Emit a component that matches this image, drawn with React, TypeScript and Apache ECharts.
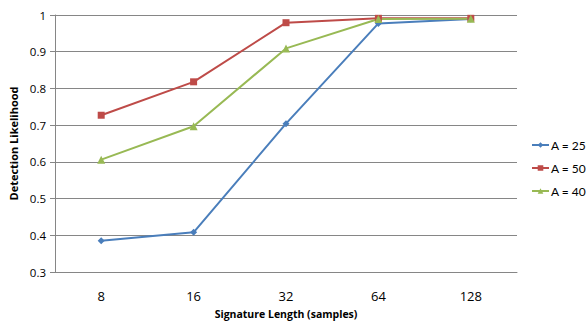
import React, { useEffect, useRef } from "react";
import * as echarts from "echarts";

const categories = ["8", "16", "32", "64", "128"];
const seriesA25 = [0.385, 0.408, 0.704, 0.977, 0.989];
const seriesA50 = [0.727, 0.818, 0.979, 0.991, 0.991];
const seriesA40 = [0.606, 0.697, 0.909, 0.989, 0.99];
const seriesNames = ["A = 25", "A = 50", "A = 40"];
const colors = ["#4A7EBB", "#BE4B48", "#98B954"];

const FONT = "'Open Sans', 'Liberation Sans', sans-serif";

export default function App() {
  const ref = useRef<HTMLDivElement>(null);
  useEffect(() => {
    if (!ref.current) return;
    const chart = echarts.init(ref.current, null, { renderer: "svg" });
    const data = [seriesA25, seriesA50, seriesA40];
    const symbols = ["diamond", "rect", "triangle"];
    const sizes = [7, 7, 8];
    chart.setOption({
      animation: false,
      backgroundColor: "#ffffff",
      grid: { left: 55, right: 70, top: 15, bottom: 50, outerBoundsMode: "none", containLabel: false },
      legend: {
        orient: "vertical",
        left: 526,
        top: 133,
        itemWidth: 17,
        itemHeight: 7,
        itemGap: 9,
        data: seriesNames,
        textStyle: { fontFamily: "Lato, sans-serif", fontSize: 12, color: "#000", padding: [0, 0, 0, -3], lineHeight: 14 },
      },
      xAxis: {
        type: "category",
        data: categories,
        boundaryGap: true,
        name: "Signature Length (samples)",
        nameLocation: "middle",
        nameGap: 36,
        nameTextStyle: { fontFamily: FONT, fontSize: 10.5, fontWeight: "bold", color: "#000" },
        axisLine: { lineStyle: { color: "#868686", width: 1 } },
        axisTick: { show: false },
        axisLabel: { fontFamily: FONT, fontSize: 13, color: "#000", margin: 17 },
      },
      yAxis: {
        type: "value",
        min: 0.3,
        max: 1,
        interval: 0.1,
        name: "Detection Likelihood",
        nameLocation: "middle",
        nameGap: 35,
        nameRotate: 90,
        nameTextStyle: { fontFamily: FONT, fontSize: 11, fontWeight: "bold", color: "#000" },
        axisLine: { show: true, lineStyle: { color: "#868686", width: 1 } },
        axisTick: { show: true, length: 5, lineStyle: { color: "#868686" } },
        axisLabel: {
          fontFamily: FONT,
          fontSize: 11.5,
          color: "#000",
          margin: 9,
          formatter: (v: number) => String(Math.round(v * 10) / 10),
        },
        splitLine: { lineStyle: { color: "#868686", width: 1 } },
      },
      series: seriesNames.map((name, i) => ({
        name,
        type: "line",
        data: data[i],
        symbol: symbols[i],
        symbolSize: sizes[i],
        showSymbol: true,
        itemStyle: { color: colors[i] },
        lineStyle: { color: colors[i], width: 2 },
      })),
    });
    return () => chart.dispose();
  }, []);
  return (
    <div
      ref={ref}
      style={{ position: "fixed", left: 0, top: 0, width: 587, height: 322 }}
    />
  );
}
